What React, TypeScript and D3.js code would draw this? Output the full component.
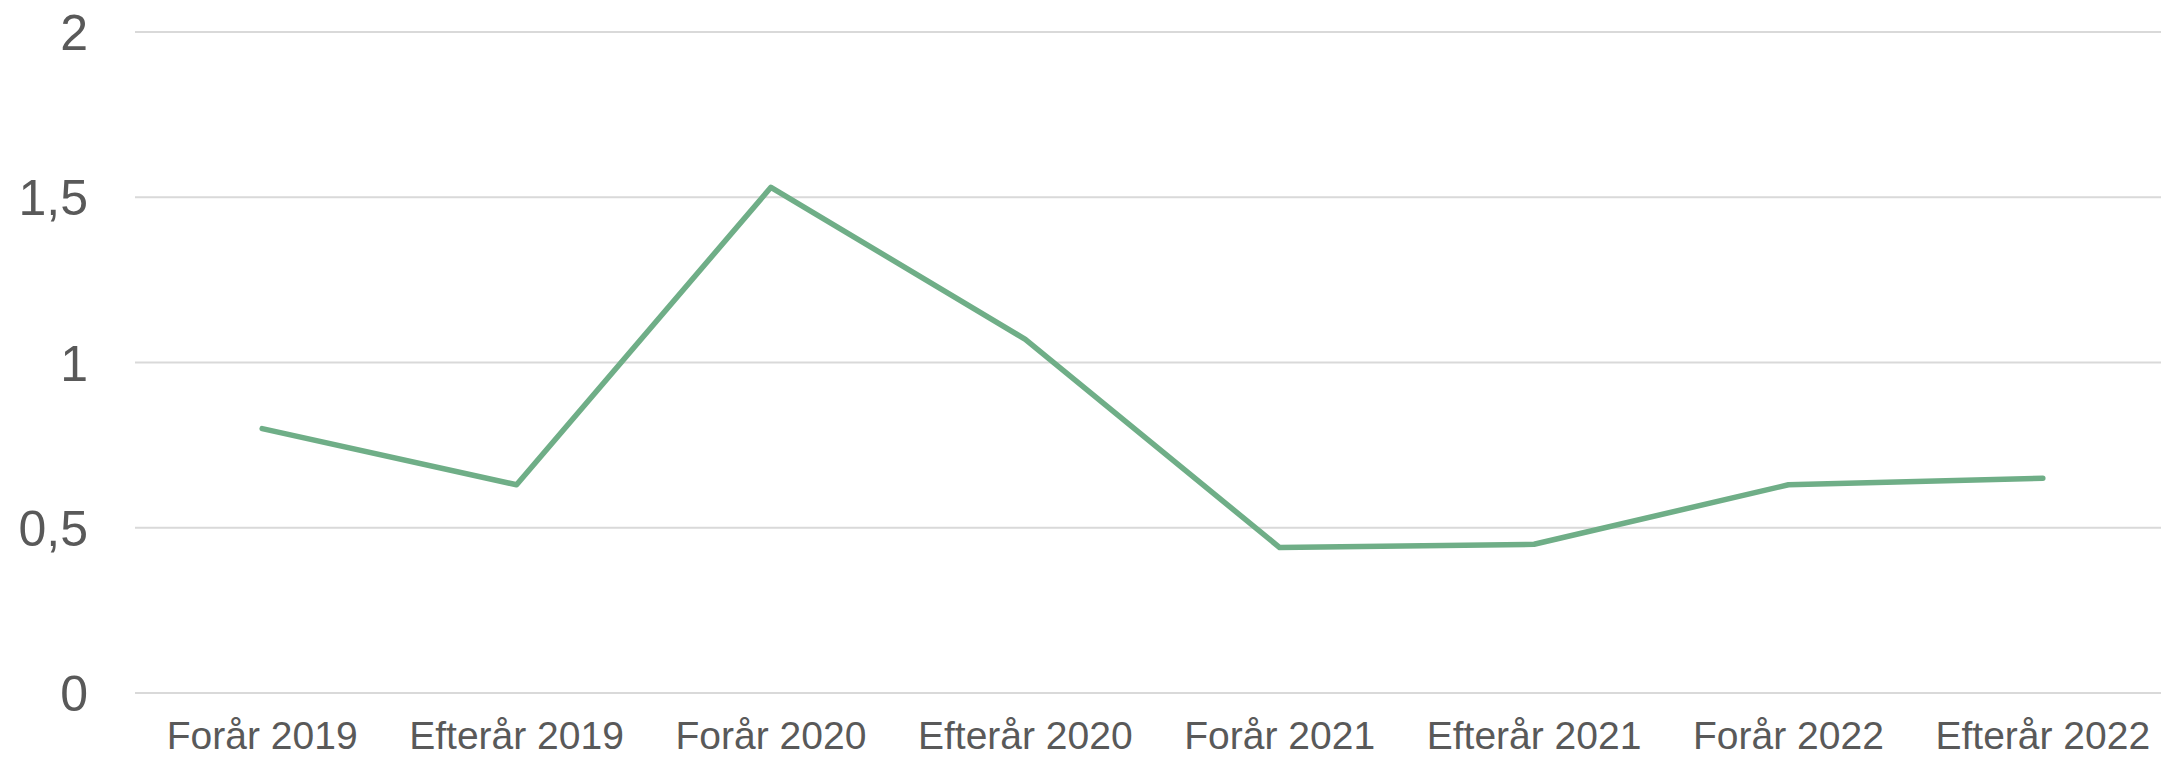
import React from 'react'
import * as d3 from 'd3'

const categories = [
  'Forår 2019', 'Efterår 2019', 'Forår 2020', 'Efterår 2020',
  'Forår 2021', 'Efterår 2021', 'Forår 2022', 'Efterår 2022'
]
const values = [0.8, 0.63, 1.53, 1.07, 0.44, 0.45, 0.63, 0.65]
const yTicks = [0, 0.5, 1, 1.5, 2]

const width = 2161
const height = 758
const font = '"Liberation Sans", Arial, sans-serif'

export default function App () {
  const x = d3.scaleBand<string>()
    .domain(categories)
    .range([135, 2170])

  const y = d3.scaleLinear()
    .domain([0, 2])
    .range([693, 32])

  const line = d3.line<number>()
    .x((d, i) => (x(categories[i]) as number) + x.bandwidth() / 2)
    .y(d => y(d))

  const fmt = (v: number) => String(v).replace('.', ',')

  return (
    <svg
      width={width}
      height={height}
      style={{ position: 'absolute', left: 0, top: 0, background: '#fff' }}
      fontFamily={font}
    >
      {/* gridlines + y labels */}
      {yTicks.map(t => (
        <g key={t}>
          <line x1={135} x2={width} y1={y(t)} y2={y(t)} stroke='#d9d9d9' strokeWidth={2} />
          <text x={88} y={y(t) + 18} textAnchor='end' fontSize={50} fill='#595959'>
            {fmt(t)}
          </text>
        </g>
      ))}

      {/* x labels */}
      {categories.map(c => (
        <text
          key={c}
          x={(x(c) as number) + x.bandwidth() / 2}
          y={749}
          textAnchor='middle'
          fontSize={39}
          fill='#595959'
        >
          {c}
        </text>
      ))}

      <path
        d={line(values) as string}
        fill='none'
        stroke='#6fae87'
        strokeWidth={5.5}
        strokeLinecap='round'
        strokeLinejoin='round'
      />
    </svg>
  )
}
